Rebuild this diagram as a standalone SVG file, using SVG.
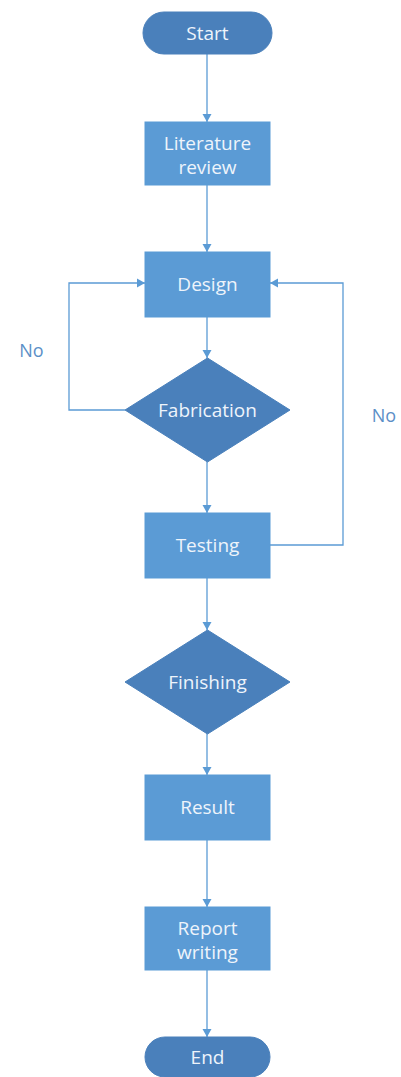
<svg xmlns="http://www.w3.org/2000/svg" width="401" height="1077" viewBox="0 0 401 1077">
<defs>
<marker id="ah" markerWidth="10" markerHeight="10" refX="8" refY="5" orient="auto" markerUnits="userSpaceOnUse">
<path d="M0,0.5 L8,5 L0,9.5 Z" fill="#5b9bd5"/>
</marker>
</defs>
<style>
.box{fill:#5b9bd5;stroke:#5b9bd5;stroke-width:1}
.dark{fill:#4a80bb;stroke:#4a80bb;stroke-width:1}
.t{font-family:"Open Sans",Lato,sans-serif;font-size:19px;fill:#eef4fb;text-anchor:middle}
.c{fill:none;stroke:#5b9bd5;stroke-width:1.3;marker-end:url(#ah)}
.lbl{font-family:"Open Sans",Lato,sans-serif;font-size:18px;fill:#5b8fc7;text-anchor:middle}
</style>
<rect width="401" height="1077" fill="#ffffff"/>
<g id="connectors">
<path class="c" d="M207,54 V122"/>
<path class="c" d="M207,185 V252"/>
<path class="c" d="M207,317 V358"/>
<path class="c" d="M207,462 V513"/>
<path class="c" d="M207,578 V630"/>
<path class="c" d="M207,734 V775"/>
<path class="c" d="M207,840 V907"/>
<path class="c" d="M207,970 V1037"/>
<path class="c" d="M125,410 H69 V283 H145"/>
<path class="c" d="M270,545 H343 V283 H270"/>
</g>
<g id="start"><rect class="dark" x="143" y="12" width="129" height="42" rx="21"/><text class="t" x="207.5" y="40">Start</text></g>
<g id="literature"><rect class="box" x="145" y="122" width="125" height="63"/><text class="t" x="207.5" y="150">Literature</text><text class="t" x="207.5" y="174">review</text></g>
<g id="design"><rect class="box" x="145" y="252" width="125" height="65"/><text class="t" x="207.5" y="291">Design</text></g>
<g id="fabrication"><polygon class="dark" points="207.5,358 290,410 207.5,462 125,410"/><text class="t" x="207.5" y="417">Fabrication</text></g>
<g id="testing"><rect class="box" x="145" y="513" width="125" height="65"/><text class="t" x="207.5" y="552">Testing</text></g>
<g id="finishing"><polygon class="dark" points="207.5,630 290,682 207.5,734 125,682"/><text class="t" x="207.5" y="689">Finishing</text></g>
<g id="result"><rect class="box" x="145" y="775" width="125" height="65"/><text class="t" x="207.5" y="814">Result</text></g>
<g id="report"><rect class="box" x="145" y="907" width="125" height="63"/><text class="t" x="207.5" y="935">Report</text><text class="t" x="207.5" y="959">writing</text></g>
<g id="end"><rect class="dark" x="145" y="1037" width="125" height="40" rx="20"/><text class="t" x="207.5" y="1064">End</text></g>
<g id="labels"><text class="lbl" x="31.5" y="357">No</text><text class="lbl" x="384" y="422">No</text></g>
</svg>
